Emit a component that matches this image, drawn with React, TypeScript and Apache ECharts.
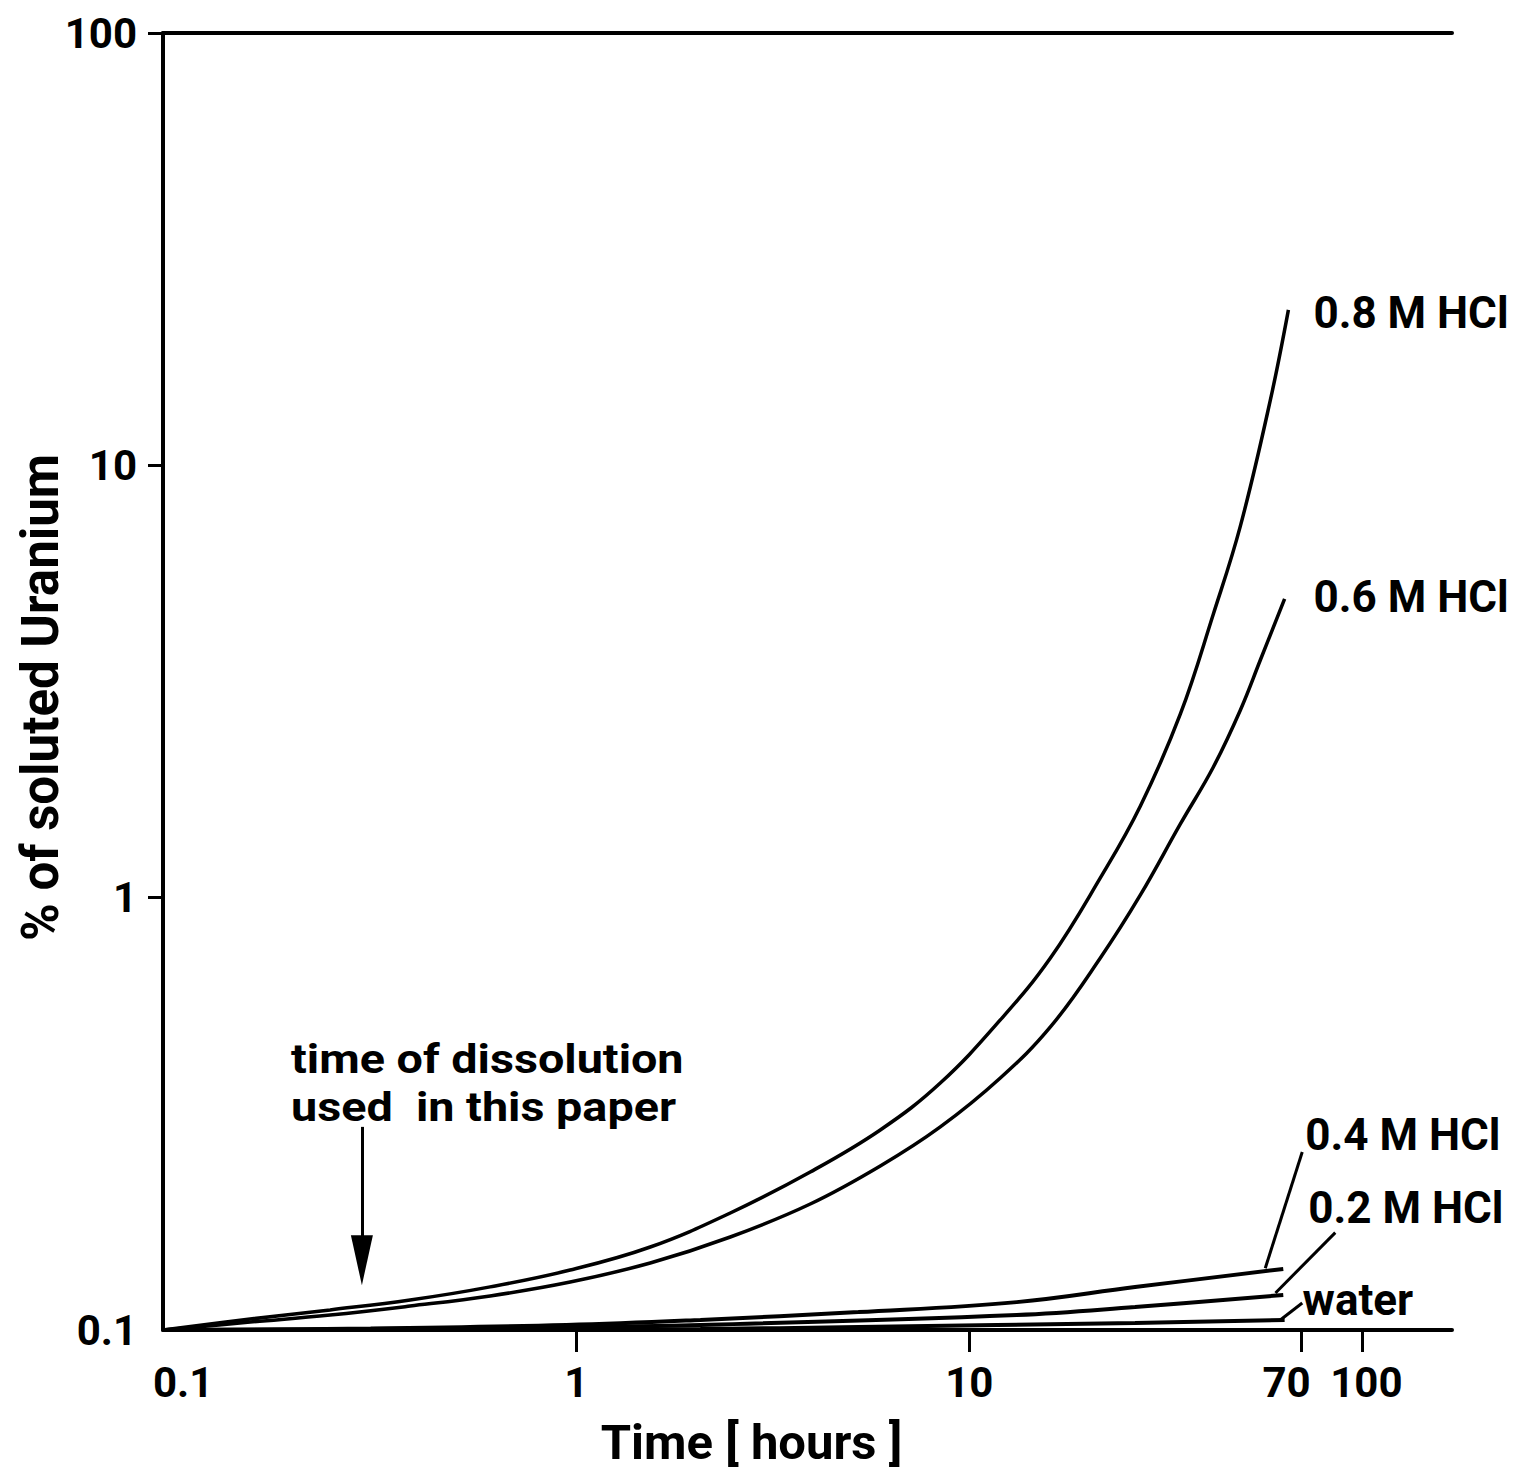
import React, { useEffect, useRef } from 'react';
import * as echarts from 'echarts';

const FONT = "Roboto, 'Liberation Sans', sans-serif";

// axis ranges
const xMin = 0.0889;
const xMax = 169;
const yMin = 0.1;
const yMax = 100;

// tick values and labels
const xTickValues = [1, 10, 70, 100];
const xLabelValues = [0.1, 1, 10, 70, 100];
const xLabelTexts = ['0.1', '1', '10', '70', '100'];
const yTickValues = [1, 10, 100];
const yLabelValues = [0.1, 1, 10, 100];
const yLabelTexts = ['0.1', '1', '10', '100'];

// series (time in hours, % of soluted uranium)
const seriesNames = ['0.8 M HCl', '0.6 M HCl', '0.4 M HCl', '0.2 M HCl', 'water'];
const hcl08 = [
  [0.0889, 0.1], [0.1481, 0.106], [0.2366, 0.1113], [0.378, 0.1173], [0.6042, 0.1258],
  [0.9654, 0.1376], [1.543, 0.1556], [2.466, 0.1865], [3.939, 0.232], [5.936, 0.2902],
  [8.437, 0.3726], [11.99, 0.5214], [16.08, 0.7252], [21.54, 1.111], [27.24, 1.63],
  [34.43, 2.66], [41.77, 4.532], [48.94, 7.243], [58.33, 14.17], [64.82, 22.88],
];
const hcl06 = [
  [0.0889, 0.1], [0.1481, 0.1043], [0.2366, 0.1083], [0.378, 0.1136], [0.6042, 0.1199],
  [0.9654, 0.1291], [1.543, 0.1429], [2.466, 0.1641], [3.939, 0.1956], [5.936, 0.2395],
  [8.437, 0.2949], [11.99, 0.3827], [16.08, 0.5023], [21.54, 0.7252], [27.24, 1.0145],
  [34.43, 1.481], [41.77, 2.006], [48.94, 2.718], [55.0, 3.546], [63.4, 4.909],
];
const hcl04 = [
  [0.0889, 0.1], [0.3, 0.1008], [0.944, 0.1027], [2.07, 0.1055], [5.22, 0.11], [13.2, 0.116],
  [26.4, 0.1257], [62.9, 0.1384],
];
const hcl02 = [
  [0.0889, 0.1], [0.3, 0.1005], [0.944, 0.1016], [2.07, 0.1027], [13.2, 0.1083], [26.4, 0.113],
  [62.9, 0.1205],
];
const water = [
  [0.0889, 0.1], [0.944, 0.1002], [2.07, 0.1005], [5.22, 0.1016], [26.4, 0.1038], [63.4, 0.1055],
];
const seriesData = [hcl08, hcl06, hcl04, hcl02, water];

// label offsets (px) from the end of each curve
const labelOffsets = [[25, 3], [29, -2], [22, -134], [25, -87], [18, -20]];

// leader lines from curve ends to labels (data coords)
const leader04 = [[56.6, 0.139], [70.3, 0.258]];
const leader02 = [[60.1, 0.1218], [85.3, 0.168]];
const leaderWater = [[61.8, 0.1055], [70.3, 0.1155]];
const leaders = [null, null, leader04, leader02, leaderWater];

// annotation arrow: time of dissolution
const arrowTime = 0.285;
const arrowFrom = 0.295;
const arrowTo = 0.15;
const arrowHead = [[arrowTime, 0.145]];
const annotationLines = ['time of dissolution', 'used  in this paper'];

// small horizontal shifts of the crowded 70 / 100 tick labels (px)
const xLabelShift: Record<string, number> = { '70': -15, '100': 4 };

const fmt = (vals: number[], texts: string[]) => (v: number) => {
  const i = vals.findIndex((t) => Math.abs(Math.log10(t) - Math.log10(v)) < 1e-4);
  return i >= 0 ? texts[i] : '';
};

export default function App() {
  const ref = useRef<HTMLDivElement>(null);
  useEffect(() => {
    if (!ref.current) return;
    const chart = echarts.init(ref.current, null, { renderer: 'svg' });
    const textBase = { color: '#000', fontFamily: FONT, fontWeight: 'bold' as const, fontSize: 44 };
    const tickText = { ...textBase, fontSize: 42 };
    const xRich: Record<string, any> = {
      base: { ...tickText },
      s70: { ...tickText, padding: [0, -2 * xLabelShift['70'], 0, 0] },
      s100: { ...tickText, padding: [0, 0, 0, 2 * xLabelShift['100']] },
    };
    const xFmt = fmt(xLabelValues, xLabelTexts);
    const series: any[] = seriesNames.map((name, i) => {
      const s: any = {
        name,
        type: 'line',
        data: seriesData[i],
        smooth: 0.4,
        showSymbol: false,
        symbol: 'none',
        lineStyle: { color: '#000', width: i < 2 ? 3.5 : 4 },
        endLabel: {
          show: true,
          formatter: name,
          distance: 0,
          offset: labelOffsets[i],
          align: 'left',
          verticalAlign: 'middle',
          ...textBase,
        },
        z: 3,
      };
      const ld = leaders[i];
      if (ld) {
        s.markLine = {
          silent: true,
          symbol: ['none', 'none'],
          label: { show: false },
          lineStyle: { color: '#000', width: 3, type: 'solid' },
          data: [[{ coord: ld[0] }, { coord: ld[1] }]],
        };
      }
      if (i === 0) {
        s.markLine = {
          silent: true,
          symbol: ['none', 'none'],
          label: { show: false },
          lineStyle: { color: '#000', width: 3, type: 'solid' },
          data: [[{ coord: [arrowTime, arrowFrom] }, { coord: [arrowTime, arrowTo] }]],
        };
      }
      return s;
    });
    series.push({
      name: 'arrow',
      type: 'scatter',
      data: arrowHead,
      symbol: 'triangle',
      symbolRotate: 180,
      symbolSize: [22, 50],
      itemStyle: { color: '#000', opacity: 1 },
      silent: true,
      z: 4,
    });

    chart.setOption({
      animation: false,
      backgroundColor: '#fff',
      grid: { left: 163, right: 83, top: 33, bottom: 139, containLabel: false, outerBoundsMode: 'none' },
      xAxis: [
        {
          type: 'log',
          logBase: 10,
          min: xMin,
          max: xMax,
          position: 'bottom',
          name: 'Time [ hours ]',
          nameLocation: 'middle',
          nameGap: 89,
          nameMoveOverlap: false,
          nameTextStyle: { ...textBase, fontSize: 49, lineHeight: 46, padding: [0, 112, 0, 0] },
          axisLine: { show: true, lineStyle: { color: '#000', width: 4 } },
          axisTick: { show: true, inside: false, length: 22, customValues: xTickValues, lineStyle: { color: '#000', width: 3 } },
          axisLabel: {
            show: true,
            customValues: xLabelValues,
            margin: 31,
            hideOverlap: false,
            formatter: (v: number) => {
              const t = xFmt(v);
              if (t === '70') return `{s70|${t}}`;
              if (t === '100') return `{s100|${t}}`;
              return `{base|${t}}`;
            },
            rich: xRich,
            ...tickText,
          },
          splitLine: { show: false },
          minorTick: { show: false },
        },
        {
          type: 'log',
          logBase: 10,
          min: xMin,
          max: xMax,
          position: 'top',
          axisLine: { show: true, lineStyle: { color: '#000', width: 4 } },
          axisTick: { show: false },
          axisLabel: { show: false },
          splitLine: { show: false },
        },
      ],
      yAxis: {
        type: 'log',
        logBase: 10,
        min: yMin,
        max: yMax,
        name: '% of soluted Uranium',
        nameLocation: 'middle',
        nameGap: 97,
        nameMoveOverlap: false,
        nameRotate: 90,
        nameTextStyle: { ...textBase, fontSize: 51, padding: [0, 32, 0, 0] },
        axisLine: { show: true, lineStyle: { color: '#000', width: 4 } },
        axisTick: { show: true, inside: false, length: 15, customValues: yTickValues, lineStyle: { color: '#000', width: 3 } },
        axisLabel: {
          show: true,
          customValues: yLabelValues,
          margin: 26,
          hideOverlap: false,
          formatter: fmt(yLabelValues, yLabelTexts),
          ...tickText,
        },
        splitLine: { show: false },
        minorTick: { show: false },
      },
      graphic: annotationLines.map((t, i) => ({
        type: 'text',
        x: 291,
        y: 1036 + i * 48,
        scaleX: 1.14,
        style: {
          text: t,
          fill: '#000',
          font: `bold 41px ${FONT}`,
          lineHeight: 47,
        },
      })),
      series,
    });
    return () => chart.dispose();
  }, []);
  return (
    <div
      ref={ref}
      style={{ position: 'absolute', left: 0, top: 0, width: 1535, height: 1469, background: '#fff' }}
    />
  );
}
